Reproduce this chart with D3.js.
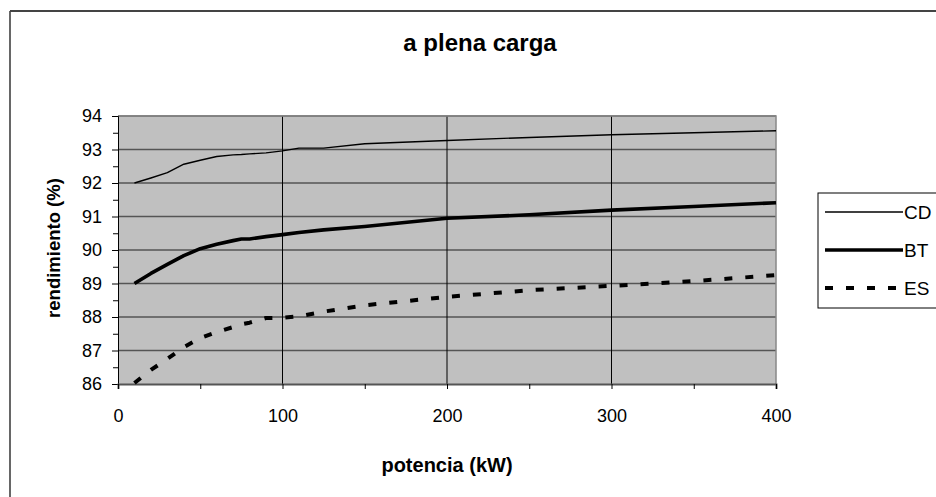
<!DOCTYPE html>
<html>
<head>
<meta charset="utf-8">
<script src="https://cdn.jsdelivr.net/npm/d3@7"></script>
<style>
  body { margin: 0; background: #fff; }
  svg { display: block; font-family: "Liberation Sans", Arial, sans-serif; }
</style>
</head>
<body>
<svg id="chart" width="936" height="497"></svg>
<script>
// potencia (kW)
const potencia = [10, 20, 30, 40, 50, 60, 70, 75, 80, 90, 100, 110, 125, 150, 200, 250, 300, 350, 400];
// rendimiento (%)
const cd = [92.0, 92.15, 92.31, 92.56, 92.68, 92.79, 92.84, 92.85, 92.87, 92.9, 92.96, 93.04, 93.04, 93.17, 93.27, 93.36, 93.44, 93.5, 93.56];
const bt = [89.0, 89.3, 89.57, 89.83, 90.04, 90.17, 90.28, 90.33, 90.33, 90.4, 90.46, 90.52, 90.6, 90.7, 90.95, 91.05, 91.19, 91.3, 91.41];
const es = [86.03, 86.42, 86.75, 87.1, 87.37, 87.55, 87.7, 87.78, 87.83, 87.97, 87.98, 88.02, 88.16, 88.35, 88.6, 88.8, 88.93, 89.07, 89.25];
const seriesNames = ['CD', 'BT', 'ES'];
const xTicks = [0, 100, 200, 300, 400];
const yTicks = [86, 87, 88, 89, 90, 91, 92, 93, 94];

const svg = d3.select('#chart');

const plot = { left: 118, right: 776, top: 116, bottom: 384 };

const x = d3.scaleLinear().domain([0, 400]).range([plot.left, plot.right]);
const y = d3.scaleLinear().domain([86, 94]).range([plot.bottom, plot.top]);

// outer frame (runs off the right/bottom edge)
svg.append('line').attr('x1', 10).attr('x2', 10).attr('y1', 11).attr('y2', 497)
    .attr('stroke', '#000').attr('stroke-width', 1.2);
svg.append('line').attr('x1', 10).attr('x2', 936).attr('y1', 11).attr('y2', 11)
    .attr('stroke', '#444').attr('stroke-width', 2);

// plot background
svg.append('rect')
    .attr('x', plot.left).attr('y', plot.top)
    .attr('width', plot.right - plot.left).attr('height', plot.bottom - plot.top)
    .attr('fill', '#c0c0c0');

// horizontal gridlines
svg.append('g').selectAll('line')
    .data(yTicks.slice(1))
    .enter().append('line')
    .attr('x1', plot.left).attr('x2', plot.right)
    .attr('y1', d => y(d)).attr('y2', d => y(d))
    .attr('stroke', '#555').attr('stroke-width', 1.4);

// vertical gridlines
svg.append('g').selectAll('line')
    .data(xTicks.slice(1, -1))
    .enter().append('line')
    .attr('x1', d => x(d)).attr('x2', d => x(d))
    .attr('y1', plot.top).attr('y2', plot.bottom)
    .attr('stroke', '#000').attr('stroke-width', 1);

// plot border top / right
svg.append('path')
    .attr('d', `M${plot.left},${plot.top}H${plot.right}V${plot.bottom}`)
    .attr('fill', 'none').attr('stroke', '#888').attr('stroke-width', 1.5);

// y axis
const yAxis = d3.axisLeft(y)
    .tickValues(d3.range(86, 94.01, 0.5))
    .tickSize(6)
    .tickFormat(d => Number.isInteger(d) ? d : '');
const gy = svg.append('g').attr('transform', `translate(${plot.left},0)`).call(yAxis);
gy.select('.domain').attr('stroke', '#000').attr('stroke-width', 1);
gy.selectAll('.tick line').attr('stroke', '#000').attr('x2', d => Number.isInteger(d) ? -6 : -5);
gy.selectAll('.tick text').attr('font-size', 18).attr('x', -16).attr('fill', '#000');

// x axis
const xAxis = d3.axisBottom(x)
    .tickValues(d3.range(0, 401, 50))
    .tickSize(5)
    .tickFormat(d => xTicks.includes(d) ? d : '');
const gx = svg.append('g').attr('transform', `translate(0,${plot.bottom})`).call(xAxis);
gx.select('.domain').attr('stroke', '#555').attr('stroke-width', 2);
gx.selectAll('.tick line').attr('stroke', '#000');
gx.selectAll('.tick text').attr('font-size', 18).attr('y', 38).attr('dy', 0).attr('fill', '#000');

// lines
const line = vals => d3.line()
    .x((d, i) => x(potencia[i]))
    .y(d => y(d))(vals);

const styles = [
    { data: cd, width: 1.4, dash: null },
    { data: bt, width: 3.6, dash: null },
    { data: es, width: 4, dash: '8,13' }
];

styles.forEach(s => {
    svg.append('path')
        .attr('d', line(s.data))
        .attr('fill', 'none')
        .attr('stroke', '#000')
        .attr('stroke-width', s.width)
        .attr('stroke-dasharray', s.dash)
        .attr('stroke-linejoin', 'round');
});

// titles
svg.append('text')
    .attr('x', 480).attr('y', 51)
    .attr('text-anchor', 'middle')
    .attr('font-size', 24).attr('font-weight', 'bold')
    .text('a plena carga');

svg.append('text')
    .attr('x', 447).attr('y', 472)
    .attr('text-anchor', 'middle')
    .attr('font-size', 20).attr('font-weight', 'bold')
    .text('potencia (kW)');

svg.append('text')
    .attr('transform', 'translate(60,248) rotate(-90)')
    .attr('text-anchor', 'middle')
    .attr('font-size', 18.5).attr('font-weight', 'bold')
    .text('rendimiento (%)');

// legend
const legend = svg.append('g');
legend.append('rect')
    .attr('x', 818).attr('y', 193)
    .attr('width', 140).attr('height', 115)
    .attr('fill', '#fff').attr('stroke', '#000').attr('stroke-width', 1);

const legendY = d3.scalePoint().domain(seriesNames).range([212, 288]);
seriesNames.forEach((name, i) => {
    legend.append('line')
        .attr('x1', 825).attr('x2', 903)
        .attr('y1', legendY(name)).attr('y2', legendY(name))
        .attr('stroke', '#000')
        .attr('stroke-width', styles[i].width)
        .attr('stroke-dasharray', styles[i].dash);
    legend.append('text')
        .attr('x', 904).attr('y', legendY(name))
        .attr('dy', '0.36em')
        .attr('font-size', 19)
        .text(name);
});
</script>
</body>
</html>
